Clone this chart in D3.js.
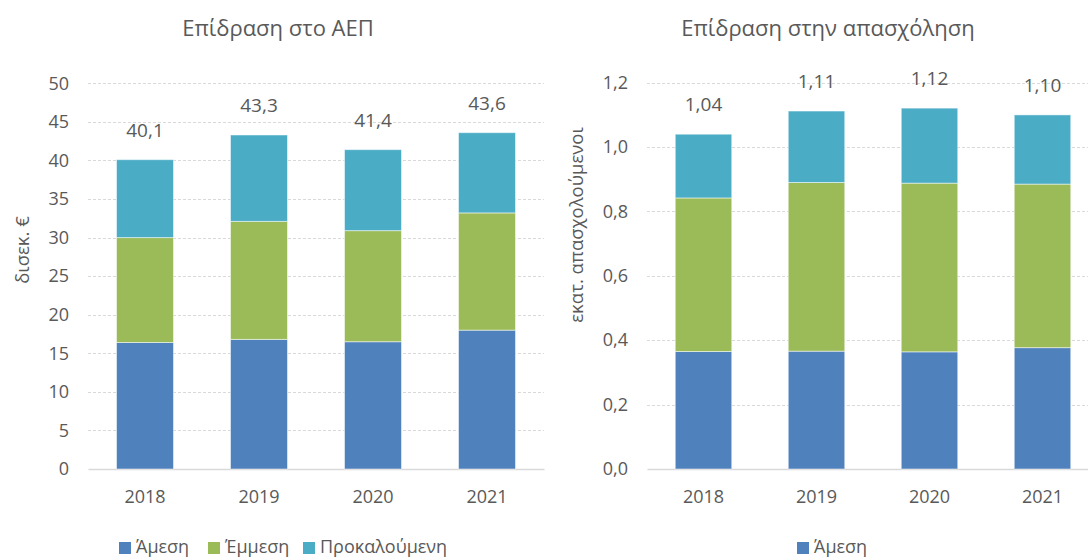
<!DOCTYPE html>
<html><head><meta charset="utf-8">
<script src="https://cdn.jsdelivr.net/npm/d3@7/dist/d3.min.js"></script>
<style>body{margin:0;background:#fff}svg{display:block}text{font-family:"Open Sans",sans-serif;fill:#595959}</style>
</head><body><svg id="c" width="1088" height="557"></svg>
<script>
const years = ["2018","2019","2020","2021"];
const seriesNames = ["Άμεση","Έμμεση","Προκαλούμενη"];
const colors = ["#4F81BD","#9BBB59","#4BACC6"];
// GDP impact (billion €)
const gdpDirect   = [16.4, 16.8, 16.5, 18.0];
const gdpIndirect = [13.6, 15.3, 14.4, 15.2];
const gdpInduced  = [10.1, 11.2, 10.5, 10.4];
const gdpTotals   = ["40,1","43,3","41,4","43,6"];
const gdpTicks = [0,5,10,15,20,25,30,35,40,45,50];
// Employment impact (million employed)
const empDirect   = [0.365, 0.366, 0.364, 0.377];
const empIndirect = [0.477, 0.524, 0.524, 0.508];
const empInduced  = [0.198, 0.222, 0.233, 0.215];
const empTotals   = ["1,04","1,11","1,12","1,10"];
const empTicks = [0,0.2,0.4,0.6,0.8,1.0,1.2];

const svg = d3.select("#c");

function panel(o){
  const g = svg.append("g");
  const x = d3.scaleBand().domain(years).range([o.x0,o.x1]).paddingInner(0.5).paddingOuter(0.25);
  const y = d3.scaleLinear().domain([0,o.max]).range([469,o.top]);
  // grid
  g.selectAll(".grid").data(o.ticks.filter(t=>t>0)).join("line")
    .attr("x1",o.x0).attr("x2",o.x1).attr("y1",d=>Math.round(y(d))+0.5).attr("y2",d=>Math.round(y(d))+0.5)
    .attr("stroke","#d9d9d9").attr("stroke-dasharray","3,2");
  // axis
  const ya = d3.axisLeft(y).tickValues(o.ticks).tickSize(0).tickPadding(0).tickFormat(o.fmt);
  const yg = g.append("g").attr("transform",`translate(${o.x0-19},0)`).call(ya);
  yg.select(".domain").remove();
  yg.selectAll("text").style("font-size","18px").attr("fill","#595959");
  const xa = d3.axisBottom(x).tickSize(0).tickPadding(21);
  const xg = g.append("g").attr("transform","translate(0,469)").call(xa);
  xg.select(".domain").attr("stroke","#d9d9d9").attr("stroke-width",1.5);
  xg.selectAll("text").style("font-size","18px").attr("fill","#595959");
  // stacks
  const rows = years.map((yr,i)=>({year:yr, s0:o.data[0][i], s1:o.data[1][i], s2:o.data[2][i]}));
  const stack = d3.stack().keys(["s0","s1","s2"])(rows);
  stack.forEach((layer,k)=>{
    g.selectAll(null).data(layer).join("rect")
      .attr("x",d=>x(d.data.year)).attr("width",x.bandwidth())
      .attr("y",d=>y(d[1])).attr("height",d=>y(d[0])-y(d[1]))
      .attr("fill",colors[k]).attr("stroke","#ffffff").attr("stroke-opacity",0.5).attr("stroke-width",1);
  });
  // totals
  g.selectAll(null).data(rows).join("text")
    .attr("x",d=>x(d.year)+x.bandwidth()/2).attr("y",d=>y(d.s0+d.s1+d.s2)-23)
    .attr("text-anchor","middle").style("font-size","19px").attr("fill","#404040")
    .text((d,i)=>o.totals[i]);
  // title
  g.append("text").attr("x",o.tx).attr("y",36).attr("text-anchor","middle").style("font-size","22px").text(o.title);
  // y title
  g.append("text").attr("transform",`translate(${o.ytx},${o.yty}) rotate(-90)`).attr("text-anchor","middle")
    .style("font-size","18.5px").text(o.ytitle);
  // legend
  const lg = g.append("g");
  o.legend.forEach((l,i)=>{
    lg.append("rect").attr("x",l.x).attr("y",542).attr("width",12).attr("height",12).attr("fill",colors[i]);
    lg.append("text").attr("x",l.x+17).attr("y",553).style("font-size","18px").text(seriesNames[i]);
  });
}

panel({x0:88,x1:544,top:83.3,max:50,ticks:gdpTicks,fmt:d=>d3.format("d")(d),
  data:[gdpDirect,gdpIndirect,gdpInduced],totals:gdpTotals,title:"Επίδραση στο ΑΕΠ",tx:278,
  ytitle:"δισεκ. €",ytx:29,yty:250,legend:[{x:119},{x:208},{x:303}]});
panel({x0:647,x1:1099,top:82.7,max:1.2,ticks:empTicks,fmt:d=>d3.format(".1f")(d).replace(".",","),
  data:[empDirect,empIndirect,empInduced],totals:empTotals,title:"Επίδραση στην απασχόληση",tx:828,
  ytitle:"εκατ. απασχολούμενοι",ytx:583,yty:225,legend:[{x:797}]});
</script></body></html>
